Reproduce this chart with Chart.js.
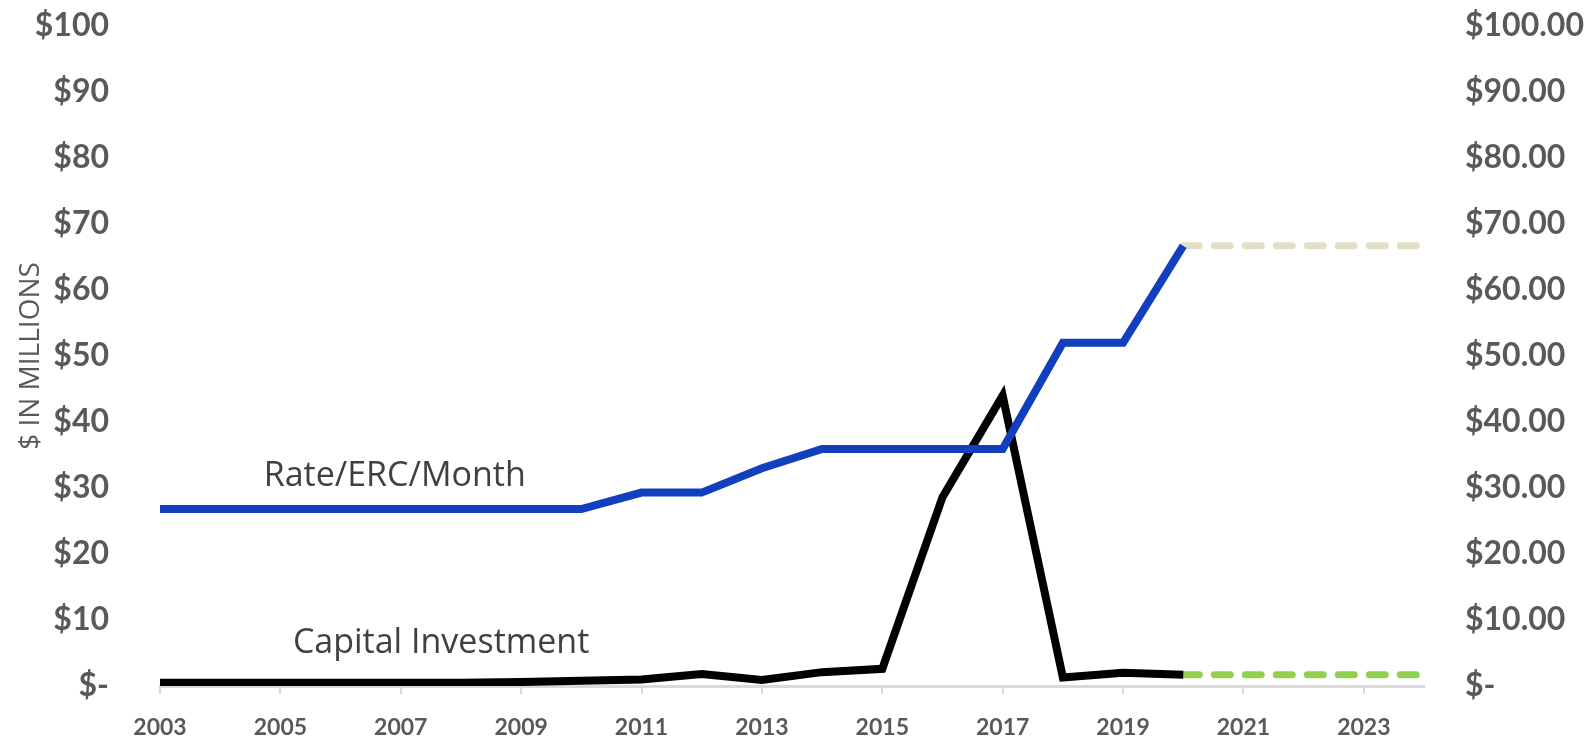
<!DOCTYPE html>
<html>
<head>
<meta charset="utf-8">
<script src="https://cdn.jsdelivr.net/npm/chart.js@4.4.1/dist/chart.umd.min.js"></script>
<style>
  html, body { margin: 0; padding: 0; background: #fff; }
  #wrap { width: 1587px; height: 743px; position: relative; }
</style>
</head>
<body>
<div id="wrap"><canvas id="capChart"></canvas></div>
<script>
const years = ['2003','2004','2005','2006','2007','2008','2009','2010','2011','2012','2013',
  '2014','2015','2016','2017','2018','2019','2020','2021','2022','2023','2024'];
// Rate/ERC/Month (right axis)
const rate = [26.8,26.8,26.8,26.8,26.8,26.8,26.8,26.8,29.3,29.3,33.0,
  35.9,35.9,35.9,35.9,52.0,52.0,66.7,null,null,null,null];
const rateProjected = [null,null,null,null,null,null,null,null,null,null,null,
  null,null,null,null,null,null,66.7,66.7,66.7,66.7,66.7];
// Capital investment, $ millions (left axis)
const capital = [0.5,0.5,0.5,0.5,0.5,0.5,0.6,0.8,1.0,1.8,0.9,
  2.1,2.6,28.6,44.0,1.3,2.0,1.7,null,null,null,null];
const capitalProjected = [null,null,null,null,null,null,null,null,null,null,null,
  null,null,null,null,null,null,1.7,1.7,1.7,1.7,1.7];
const leftTicks = [0,10,20,30,40,50,60,70,80,90,100];

const tickFont = { family: 'Lato', weight: 'bold', size: 32 };

const lineLabels = {
    id: 'lineLabels',
    afterDatasetsDraw(chart) {
        const c = chart.ctx;
        const x = chart.scales.x, y = chart.scales.y;
        c.save();
        c.fillStyle = '#404040';
        c.font = '34px "Open Sans"';
        c.textAlign = 'center';
        c.textBaseline = 'middle';
        c.fillText('Rate/ERC/Month', x.getPixelForValue(3.9), y.getPixelForValue(31.8));
        c.fillText('Capital Investment', x.getPixelForValue(4.67), y.getPixelForValue(6.4));
        c.restore();
    }
};

// keep the y axes from reserving extra room above/below the plot
function fixVertical(width) {
    return function (s) {
        s.width = width;
        s.paddingTop = 0;
        s.paddingBottom = 0;
    };
}

const ctx = document.getElementById('capChart').getContext('2d');
const capChart = new Chart(ctx, {
    type: 'line',
    data: {
        labels: years,
        datasets: [{
            label: 'Rate/ERC/Month',
            data: rate,
            yAxisID: 'y1',
            borderColor: '#123FBE',
            borderWidth: 8,
            borderJoinStyle: 'miter',
            pointRadius: 0
        }, {
            label: 'Rate projected',
            data: rateProjected,
            yAxisID: 'y1',
            borderColor: '#E3DEC6',
            borderWidth: 7,
            borderDash: [16, 15],
            borderCapStyle: 'round',
            pointRadius: 0
        }, {
            label: 'Capital Investment',
            data: capital,
            yAxisID: 'y',
            borderColor: '#000000',
            borderWidth: 8,
            borderJoinStyle: 'miter',
            pointRadius: 0
        }, {
            label: 'Capital projected',
            data: capitalProjected,
            yAxisID: 'y',
            borderColor: '#92D050',
            borderWidth: 7,
            borderDash: [16, 15],
            borderCapStyle: 'round',
            pointRadius: 0
        }]
    },
    options: {
        responsive: true,
        maintainAspectRatio: false,
        animation: false,
        layout: { padding: { top: 26, left: 0, right: 0, bottom: 0 } },
        scales: {
            x: {
                grid: {
                    drawOnChartArea: false,
                    drawTicks: true,
                    tickLength: 8,
                    color: '#D9D9D9',
                    lineWidth: 2
                },
                border: { color: '#D9D9D9', width: 3 },
                ticks: {
                    autoSkip: false,
                    maxRotation: 0,
                    color: '#595959',
                    padding: 20,
                    font: { family: 'Lato', weight: 'bold', size: 23 },
                    callback: function (v, i) { return i % 2 === 0 ? years[i] : null; }
                },
                afterFit: function (s) { s.height = 57; }
            },
            y: {
                position: 'left',
                min: 0,
                max: 100,
                afterBuildTicks: function (s) { s.ticks = leftTicks.map(v => ({ value: v })); },
                grid: { display: false, drawTicks: false },
                border: { display: false },
                ticks: {
                    color: '#595959',
                    padding: 51,
                    font: tickFont,
                    callback: v => v === 0 ? '$-' : '$' + v
                },
                title: {
                    display: true,
                    text: '$ IN MILLIONS',
                    color: '#595959',
                    font: { family: 'Open Sans', size: 28 },
                    padding: { top: 14, bottom: 0 }
                },
                afterFit: fixVertical(160)
            },
            y1: {
                position: 'right',
                min: 0,
                max: 100,
                afterBuildTicks: function (s) { s.ticks = leftTicks.map(v => ({ value: v })); },
                grid: { display: false, drawTicks: false },
                border: { display: false },
                ticks: {
                    color: '#595959',
                    padding: 41,
                    font: tickFont,
                    callback: v => v === 0 ? '$-' : '$' + v.toFixed(2)
                },
                afterFit: fixVertical(163)
            }
        },
        plugins: {
            legend: { display: false },
            tooltip: { enabled: false }
        }
    },
    plugins: [lineLabels]
});
</script>
</body>
</html>
